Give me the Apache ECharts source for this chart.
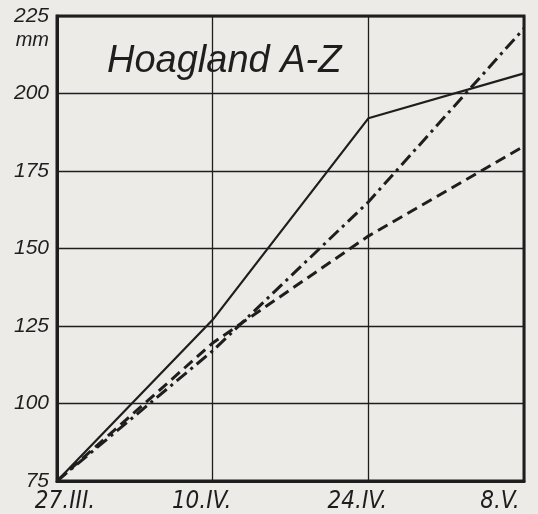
<!DOCTYPE html>
<html>
<head>
<meta charset="utf-8">
<style>
  html, body { margin: 0; padding: 0; background: #ecebe8; }
  #chart { width: 538px; height: 514px; }
</style>
<script src="https://cdn.jsdelivr.net/npm/echarts@6/dist/echarts.min.js"></script>
</head>
<body>
<div id="chart"></div>
<script>
// dates of measurement
const dates = ['27.III.', '10.IV.', '24.IV.', '8.V.']
// growth in mm
const solidLine = [75, 127, 192, 206.5]
const dashedLine = [75, 119.5, 154, 183]
const dashDotLine = [75, 117, 165, 221]
const yTicks = [75, 100, 125, 150, 175, 200, 225]

const ink = '#1e1e1e'
const font = 'Liberation Sans, Arial, sans-serif'
const narrow = 'Liberation Sans Narrow, DejaVu Sans Condensed, Liberation Sans, sans-serif'

const chart = echarts.init(document.getElementById('chart'))

function lineSeries(name, data, type, width) {
  return {
    name: name,
    type: 'line',
    data: data,
    symbol: 'none',
    animation: false,
    lineStyle: { color: ink, width: width, type: type }
  }
}

const labelText = {
  color: ink,
  fontFamily: font,
  fontStyle: 'italic',
  fontSize: 21
}
const dateText = {
  color: ink,
  fontFamily: narrow,
  fontStyle: 'italic',
  fontSize: 24
}

chart.setOption({
  backgroundColor: '#ecebe8',
  title: {
    text: 'Hoagland A-Z',
    left: 102,
    top: 37,
    textStyle: {
      color: ink,
      fontFamily: font,
      fontStyle: 'italic',
      fontWeight: 'normal',
      fontSize: 38
    }
  },
  grid: {
    left: 57,
    right: 14,
    top: 16,
    bottom: 33,
    outerBoundsMode: 'none',
    show: true,
    borderColor: ink,
    borderWidth: 3
  },
  xAxis: {
    type: 'category',
    data: dates,
    boundaryGap: false,
    axisLine: { lineStyle: { color: ink, width: 3 } },
    axisTick: { show: false },
    axisLabel: {
      margin: 9,
      formatter: (v, i) => {
        if (i === 0) return '{first|' + v + '}'
        if (i === dates.length - 1) return '{last|' + v + '}'
        return '{mid|' + v + '}'
      },
      rich: {
        first: Object.assign({ padding: [0, 0, 0, 16] }, dateText),
        mid: Object.assign({ padding: [0, 22, 0, 0] }, dateText),
        last: Object.assign({ padding: [0, 48, 0, 0] }, dateText)
      }
    },
    splitLine: { show: true, lineStyle: { color: ink, width: 1.3 } }
  },
  yAxis: {
    type: 'value',
    min: yTicks[0],
    max: yTicks[yTicks.length - 1],
    interval: 25,
    axisLine: { show: true, lineStyle: { color: ink, width: 3 } },
    axisTick: { show: false },
    axisLabel: Object.assign({ margin: 8 }, labelText),
    splitLine: { lineStyle: { color: ink, width: 1.3 } }
  },
  graphic: [
    {
      type: 'text',
      right: 538 - 49,
      top: 30,
      style: {
        text: 'mm',
        fill: ink,
        font: 'italic 20px ' + font
      }
    }
  ],
  series: [
    lineSeries('solid', solidLine, 'solid', 2.2),
    lineSeries('dashed', dashedLine, [11, 6], 3),
    lineSeries('dashdot', dashDotLine, [13, 5, 3, 5], 3)
  ]
})
</script>
</body>
</html>
